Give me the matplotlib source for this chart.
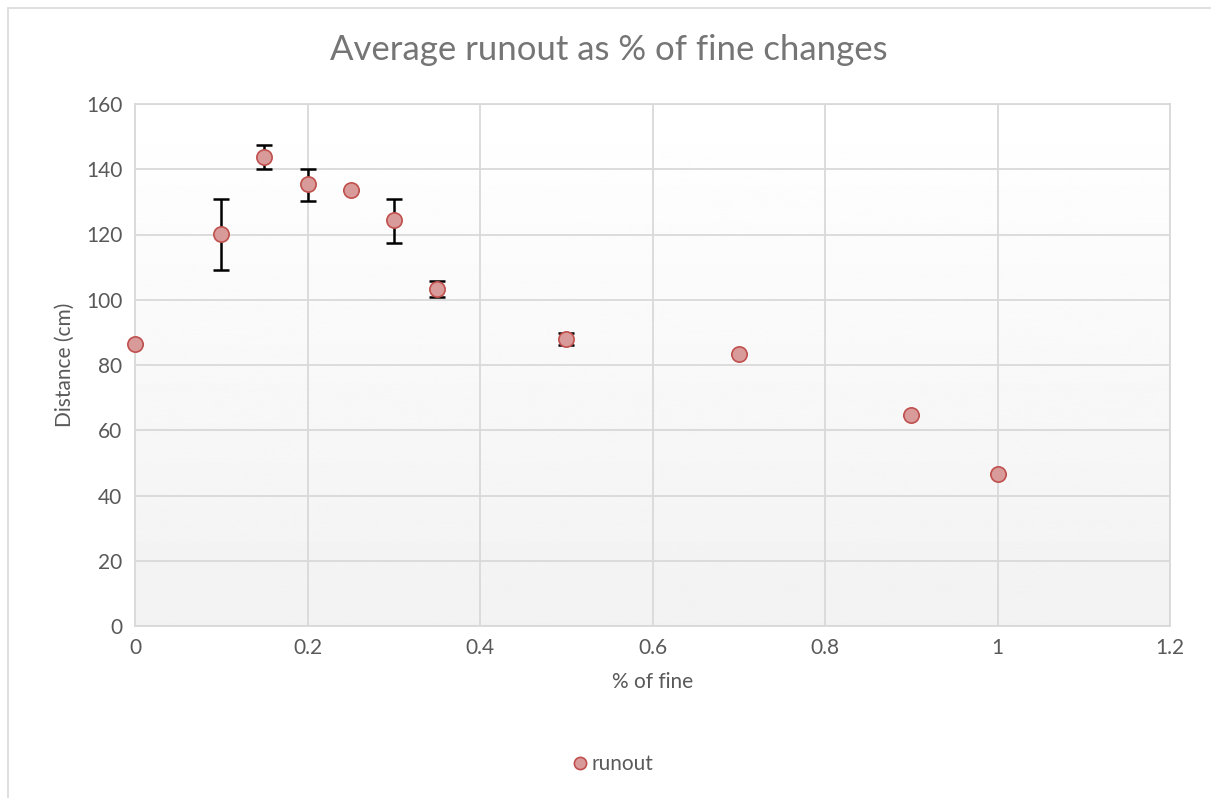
import numpy as np
import matplotlib.pyplot as plt
from matplotlib.patches import Rectangle

# fine fraction vs mean runout, with error bar half-ranges
fine = [0, 0.1, 0.15, 0.2, 0.25, 0.3, 0.35, 0.5, 0.7, 0.9, 1.0]
runout = [86.4, 120.1, 143.8, 135.4, 133.5, 124.3, 103.3, 88.0, 83.3, 64.6, 46.5]
err_lo = [0, 11.0, 3.7, 5.1, 0, 6.9, 2.5, 1.9, 0, 0, 0]
err_hi = [0, 10.8, 3.6, 4.7, 0, 6.6, 2.4, 1.8, 0, 0, 0]

xticks = [0, 0.2, 0.4, 0.6, 0.8, 1.0, 1.2]
xlabels = ["0", "0.2", "0.4", "0.6", "0.8", "1", "1.2"]
yticks = [0, 20, 40, 60, 80, 100, 120, 140, 160]

plt.rcParams['font.family'] = ['Lato', 'DejaVu Sans']
txt = '#595959'

fig = plt.figure(figsize=(12.11, 7.98), dpi=100)
ax = fig.add_axes([135/1211, 1 - 626/798, 1035/1211, 522/798])

# gradient background white (top) -> light grey (bottom)
grad = np.linspace(1.0, 0.949, 256).reshape(-1, 1)
ax.imshow(grad, cmap='gray', vmin=0, vmax=1, aspect='auto', origin='upper',
          extent=[0, 1.2, 0, 160], zorder=0)

ax.set_xlim(0, 1.2)
ax.set_ylim(0, 160)
ax.set_xticks(xticks)
ax.set_xticklabels(xlabels)
ax.set_yticks(yticks)
ax.grid(True, color='#d9d9d9', linewidth=1.3, zorder=1)
ax.set_axisbelow(True)
for s in ax.spines.values():
    s.set_color('#d9d9d9')
    s.set_linewidth(1.3)
ax.tick_params(length=0, colors=txt, labelsize=15, pad=9)

ax.errorbar(fine, runout, yerr=[err_lo, err_hi], fmt='none', ecolor='black',
            elinewidth=1.8, capsize=6, capthick=1.8, zorder=3)
ax.plot(fine, runout, 'o', markersize=11, markerfacecolor='#d99b9a',
        markeredgecolor='#c0504d', markeredgewidth=1.2, zorder=4,
        label='runout', clip_on=False)

fig.text(609/1211, 1 - 50/798, 'Average runout as % of fine changes', fontsize=25,
         color='#757575', ha='center', va='center')
ax.set_xlabel('% of fine', fontsize=15, color=txt, labelpad=10)
ax.set_ylabel('Distance (cm)', fontsize=15, color=txt, labelpad=8)

leg = fig.legend(loc='center', bbox_to_anchor=(612/1211, 1 - 764/798), frameon=False,
                 fontsize=15, handletextpad=0.1, handlelength=0.9, markerscale=0.8)
for t in leg.get_texts():
    t.set_color(txt)

# outer chart frame
fig.patches.append(Rectangle((8/1211, -0.01), 1.0, 1.0, transform=fig.transFigure,
                             fill=False, edgecolor='#d9d9d9', linewidth=1.2))

fig.savefig('out.png', dpi=100)
